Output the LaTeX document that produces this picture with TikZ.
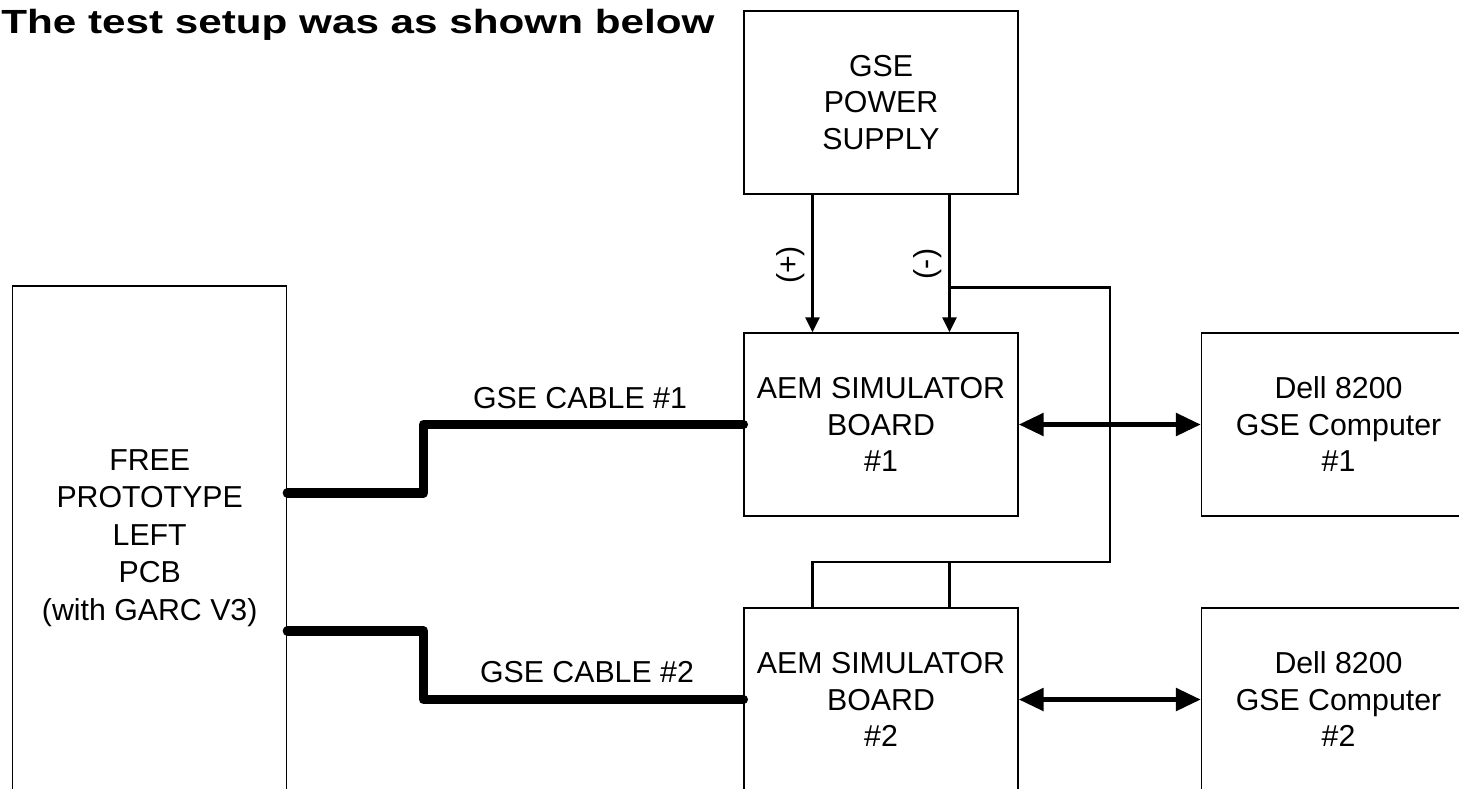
\documentclass[tikz,border=0pt]{standalone}
\usepackage{fontspec}
\setmainfont{Liberation Sans}
\usetikzlibrary{arrows.meta}

\begin{document}
\begin{tikzpicture}[x=0.5pt, y=-0.5pt,
    font=\fontsize{15.15}{18.25}\selectfont,
    box/.style={draw, line width=0.65pt, minimum width=137pt, minimum height=91.5pt, inner sep=0pt, align=center},
    wire/.style={line width=1.4pt},
    feed/.style={wire, -{Triangle[length=7.5pt,width=7pt]}},
    cable/.style={line width=4.7pt, line cap=round, line join=round},
    link/.style={line width=2.7pt, {Triangle[length=12.5pt,width=11pt]}-{Triangle[length=12.5pt,width=11pt]}}]
  \useasboundingbox (0,0) rectangle (1459,788);
  \clip (0,0) rectangle (1459,788);
  % the title
  \node[anchor=base west, inner sep=0pt, font=\fontsize{16.75}{20}\selectfont\bfseries] (title) at (1,33)
    {\scalebox{1.26}[1]{The test setup was as shown below}};
  % the boxes
  \node[box] (psu) at (881,102.5) {GSE\\POWER\\SUPPLY};
  \node[box] (aem1) at (881,424.5) {AEM SIMULATOR\\BOARD\\\#1};
  \node[box] (aem2) at (881,699.5) {AEM SIMULATOR\\BOARD\\\#2};
  \node[box] (dell1) at (1338.5,424.5) {Dell 8200\\GSE Computer\\\#1};
  \node[box] (dell2) at (1338.5,699.5) {Dell 8200\\GSE Computer\\\#2};
  \node[box, minimum height=252pt, font=\fontsize{15.15}{18.75}\selectfont] (proto) at (149.7,538)
    {FREE\\PROTOTYPE\\LEFT\\PCB\\(with GARC V3)};
  % power feed, plus and minus
  \coordinate (plus) at ([xshift=-34.25pt]psu.south);
  \coordinate (minus) at ([xshift=34.25pt]psu.south);
  \coordinate (tap) at ([yshift=-46.5pt]minus);
  \coordinate (bus) at (1110,562);
  \draw[feed] (plus) -- (plus |- aem1.north);
  \draw[feed] (minus) -- (minus |- aem1.north);
  \draw[wire] (tap) -| (bus) -| ([xshift=-34.25pt]aem2.north);
  \draw[wire] (minus |- bus) -- ([xshift=34.25pt]aem2.north);
  \node[rotate=90] (plab) at (790.7,265) {(+)};
  \node[rotate=90] (mlab) at (927.7,264) {(-)};
  % the two cables
  \draw[cable] ([yshift=22.5pt]proto.east) -- ++(136.3,0) |- (aem1.west);
  \draw[cable] ([yshift=-46.5pt]proto.east) -- ++(136.3,0) |- (aem2.west);
  \node (lab1) at (580,398) {GSE CABLE \#1};
  \node (lab2) at (587,672) {GSE CABLE \#2};
  % links to the computers
  \draw[link] (aem1.east) -- (dell1.west);
  \draw[link] (aem2.east) -- (dell2.west);
\end{tikzpicture}
\end{document}
